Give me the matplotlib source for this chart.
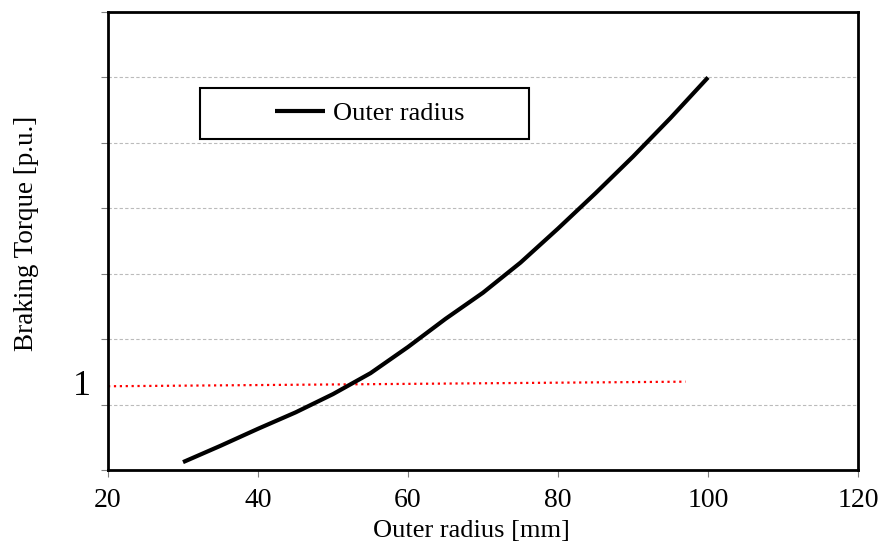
"""Braking torque vs outer radius."""

import matplotlib.pyplot as plt
from matplotlib.patches import Rectangle

# outer radius sweep [mm] and braking torque (grid units)
radius = [30, 35, 40, 45, 50, 55, 60, 65, 70, 75, 80, 85, 90, 95, 100]
torque = [0.12, 0.37, 0.63, 0.88, 1.16, 1.48, 1.88, 2.31, 2.71, 3.17, 3.69, 4.23, 4.79, 5.38, 6.0]

# required torque reference line
ref_x = [20, 97]
ref_y = [1.28, 1.35]

x_ticks = [20, 40, 60, 80, 100, 120]
y_ticks = [0, 1, 2, 3, 4, 5, 6, 7]

plt.rcParams['font.family'] = ['Liberation Serif', 'DejaVu Serif']

fig = plt.figure(figsize=(8.81, 5.46), dpi=100)
ax = fig.add_axes([0.1226, 0.1392, 0.8513, 0.8388])

ax.plot(ref_x, ref_y, color='red', linestyle=':', linewidth=1.6)
ax.plot(radius, torque, color='black', linewidth=3, label='Outer radius',
        solid_capstyle='butt', solid_joinstyle='round')

ax.set_xlim(20, 120)
ax.set_ylim(0, 7)
ax.set_xticks(x_ticks)
ax.set_yticks(y_ticks)
ax.set_yticklabels([])
ax.tick_params(axis='x', labelsize=20, direction='out', length=5, color='gray', pad=8)
ax.tick_params(axis='y', direction='out', length=5, color='gray')
ax.grid(axis='y', color='#bbbbbb', linestyle=(0, (3, 2)), linewidth=0.8)
for s in ax.spines.values():
    s.set_linewidth(2)
    s.set_color('black')

ax.text(-0.035, ref_y[0], '1', transform=ax.get_yaxis_transform(),
        ha='center', va='center', fontsize=26)

ax.set_xlabel('Outer radius [mm]', fontsize=19, labelpad=5)
ax.xaxis.label.set_x(0.484)
ax.set_ylabel('Braking Torque [p.u.]', fontsize=19.5, labelpad=41)
ax.yaxis.label.set_y(0.517)

# legend box drawn separately so the entry sits centred in it
ax.add_patch(Rectangle((0.1227, 0.7227), 0.4386, 0.1113, transform=ax.transAxes,
                       fill=False, edgecolor='black', linewidth=1.5, zorder=5))
ax.legend(loc='center', bbox_to_anchor=(0.349, 0.778), fontsize=19, frameon=False,
          handlelength=1.9, handletextpad=0.3, borderpad=0, borderaxespad=0)

fig.savefig('out.png', dpi=100)
